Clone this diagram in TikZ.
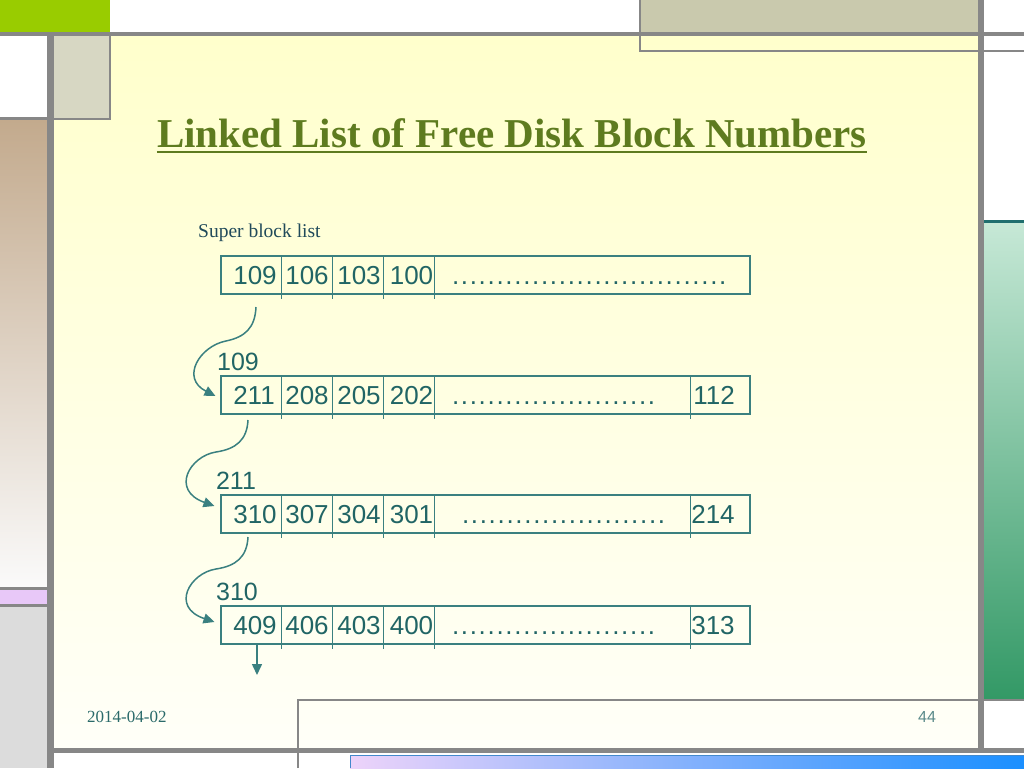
\documentclass[tikz,border=0pt]{standalone}
\usepackage{fontspec}
\setmainfont{Liberation Serif}
\newfontfamily\numfont{Liberation Sans}
\usetikzlibrary{arrows.meta}
\definecolor{gbar}{HTML}{878787}
\definecolor{mainy}{HTML}{FFFFCC}
\definecolor{mainw}{HTML}{FFFFF8}
\definecolor{tlgreen}{HTML}{99CC00}
\definecolor{beigeA}{HTML}{D7D7C3}
\definecolor{beigeB}{HTML}{C9C9AD}
\definecolor{tanc}{HTML}{C3AA8D}
\definecolor{tanm}{HTML}{DDD0C2}
\definecolor{tanw}{HTML}{FAFAFA}
\definecolor{lilac}{HTML}{E8C8F8}
\definecolor{lgray}{HTML}{DCDCDC}
\definecolor{tealline}{HTML}{1F6E6E}
\definecolor{rgA}{HTML}{C6E8D6}
\definecolor{rgB}{HTML}{339966}
\definecolor{blA}{HTML}{EDD3FA}
\definecolor{blB}{HTML}{1A8FFF}
\definecolor{titlec}{HTML}{5E7B1F}
\definecolor{numc}{HTML}{216565}
\definecolor{boxc}{HTML}{3A8080}
\definecolor{superc}{HTML}{204A5A}
\definecolor{datec}{HTML}{2A6A6A}
\definecolor{pagec}{HTML}{5A8A8A}
\begin{document}
\begin{tikzpicture}[x=1pt,y=-1pt,
  rowbox/.style={draw=boxc, line width=1.1pt, minimum width=529pt, minimum height=38pt, inner sep=0pt},
  cell/.style={text=numc, font=\numfont\fontsize{26}{30}\selectfont, anchor=base, inner sep=0pt},
  lab/.style={cell, font=\numfont\fontsize{25}{30}\selectfont},
  dotrow/.style={cell, anchor=base west},
  divider/.style={draw=boxc, line width=1.1pt},
  link/.style={draw=boxc, line width=1.5pt, -{Triangle[length=11pt,width=10pt]}},
  bar/.style={fill=gbar, draw=none},
  edge/.style={draw=gbar, line width=2pt},
]
\useasboundingbox (0,0) rectangle (1024,768);
% ---------- background ----------
\fill[white] (0,0) rectangle (1024,768);
\shade[top color=mainy, bottom color=mainw] (54,36) rectangle (978,748);
\fill[tlgreen] (0,0) rectangle (110,32);
\fill[beigeA] (54,36) rectangle (110,118);
\draw[edge] (110,36) -- (110,119) -- (54,119);
\fill[bar] (0,117) rectangle (47,120);
\shade[top color=tanc, middle color=tanm, bottom color=tanw] (0,120) rectangle (47,587);
\fill[bar] (0,587) rectangle (47,590);
\fill[lilac] (0,590) rectangle (47,604);
\fill[bar] (0,604) rectangle (47,607);
\fill[lgray] (0,607) rectangle (47,768);
\fill[bar] (47,32) rectangle (54,768);
\fill[bar] (0,32) rectangle (1024,36);
\fill[beigeB] (640,0) rectangle (978,32);
\draw[edge] (640,0) -- (640,51) -- (1024,51);
\fill[bar] (978,0) rectangle (984,753);
\fill[tealline] (984,220) rectangle (1024,223);
\shade[top color=rgA, bottom color=rgB] (984,223) rectangle (1024,698);
\draw[edge] (298,768) -- (298,700) -- (1024,700);
\fill[bar] (54,748) rectangle (1024,753);
\shade[left color=blA, right color=blB] (350,755) rectangle (1024,768);
\draw[blB!60!gray, line width=0.8pt] (350,768) -- (350,755) -- (1024,755);
% ---------- title ----------
\node[text=titlec, font=\bfseries\fontsize{41}{48}\selectfont, anchor=base, inner sep=0pt] (title) at (512,147) {Linked List of Free Disk Block Numbers};
\draw[titlec, line width=2pt] ([yshift=-5pt]title.base west) -- ([yshift=-5pt]title.base east);
\node[text=superc, font=\fontsize{19.5}{24}\selectfont, anchor=base west, inner sep=0pt] (sbl) at (198,237) {Super block list};
% ---------- rows ----------
\node[rowbox] (row1) at (485.5,275) {};
\node[rowbox] (row2) at (485.5,395) {};
\node[rowbox] (row3) at (485.5,514) {};
\node[rowbox] (row4) at (485.5,625) {};
\foreach \r in {row1,row2,row3,row4}{
  \foreach \s in {61,112,163,214}{
    \draw[divider] ([xshift=\s pt]\r.north west) -- ([xshift=\s pt, yshift=-4pt]\r.south west);
  }
}
\foreach \r in {row2,row3,row4}{
  \draw[divider] ([xshift=470pt]\r.north west) -- ([xshift=470pt, yshift=-4pt]\r.south west);
}
% row 1
\node[cell] (a1) at (255,284) {109};
\node[cell] (a2) at (307,284) {106};
\node[cell] (a3) at (359,284) {103};
\node[cell] (a4) at (411.5,284) {100};
\node[dotrow] (ad) at (451,284) {\foreach \i in {1,...,31}{\makebox[8.9pt]{.}}};
% row 2
\node[lab] (l2) at (238,370) {109};
\node[cell] (b1) at (254,404) {211};
\node[cell] (b2) at (307,404) {208};
\node[cell] (b3) at (359,404) {205};
\node[cell] (b4) at (411.5,404) {202};
\node[dotrow] (bd) at (451,404) {\foreach \i in {1,...,23}{\makebox[8.9pt]{.}}};
\node[cell] (b5) at (714,404) {112};
% row 3
\node[lab] (l3) at (236,489) {211};
\node[cell] (c1) at (255,523) {310};
\node[cell] (c2) at (307,523) {307};
\node[cell] (c3) at (359,523) {304};
\node[cell] (c4) at (411.5,523) {301};
\node[dotrow] (cd) at (461,523) {\foreach \i in {1,...,23}{\makebox[8.9pt]{.}}};
\node[cell] (c5) at (713,523) {214};
% row 4
\node[lab] (l4) at (237,600) {310};
\node[cell] (d1) at (255,634) {409};
\node[cell] (d2) at (307,634) {406};
\node[cell] (d3) at (359,634) {403};
\node[cell] (d4) at (411.5,634) {400};
\node[dotrow] (dd) at (451,634) {\foreach \i in {1,...,23}{\makebox[8.9pt]{.}}};
\node[cell] (d5) at (713,634) {313};
% ---------- links ----------
\coordinate (s1) at (256,307);
\coordinate (s2) at (248,420);
\coordinate (s3) at (248,537);
\coordinate (dn) at (257,675);
\draw[link] (s1) .. controls (255,328) and (245,337) .. (226,341) .. controls (200,346) and (180,378) .. ([xshift=-5pt,yshift=-1pt]row2.west);
\draw[link] (s2) .. controls (247,440) and (236,449) .. (216,452) .. controls (190,456) and (170,490) .. ([xshift=-6pt,yshift=8pt]row3.west);
\draw[link] (s3) .. controls (247,557) and (236,566) .. (216,569) .. controls (190,573) and (170,607) .. ([xshift=-6pt,yshift=3pt]row4.west);
\draw[link] (dn |- row4.south) -- (dn);
% ---------- footer ----------
\node[text=datec, font=\fontsize{17}{20}\selectfont, anchor=base west, inner sep=0pt] (date) at (87,722) {2014-04-02};
\node[text=pagec, font=\numfont\fontsize{16}{20}\selectfont, anchor=base, inner sep=0pt] (page) at (927,722) {44};
\end{tikzpicture}
\end{document}
